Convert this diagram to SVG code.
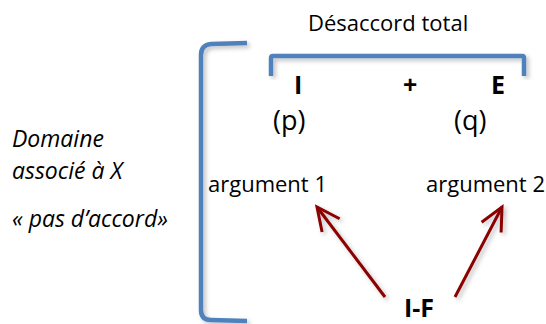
<svg xmlns="http://www.w3.org/2000/svg" width="546" height="324" viewBox="0 0 546 324">
<defs>
<style>
text{font-family:"Open Sans","Liberation Sans",sans-serif;fill:#000}
.n{font-size:22px}
.it{font-size:23px;font-style:italic}
.b{font-weight:bold;font-size:25px}
.br{fill:none;stroke:#4F81BD;stroke-width:4.5;stroke-linejoin:round;filter:url(#sh)}
.ar{fill:none;stroke:#8B0000;stroke-width:3;filter:url(#sh)}
</style>
<filter id="sh" x="-20%" y="-20%" width="140%" height="140%">
<feDropShadow dx="2.5" dy="2.5" stdDeviation="2" flood-color="#000" flood-opacity="0.25"/>
</filter>
<marker id="ah" markerUnits="userSpaceOnUse" markerWidth="40" markerHeight="40" refX="0" refY="0" viewBox="-30 -20 40 40" orient="auto" overflow="visible">
<path d="M-23,-11 L0,0 L-23,11" fill="none" stroke="#8B0000" stroke-width="3"/>
</marker>
</defs>
<g id="bracket-domaine">
<path class="br" d="M247,43 L211,44 Q201,45 201,55 L201,310 Q201,320 211,320 L247,321"/>
</g>
<g id="bracket-desaccord">
<path class="br" d="M271,76 L271,58 Q271,56 273,56 L522,56 Q524,56 524,58 L524,76"/>
</g>
<g id="title"><text class="n" x="308" y="31">Désaccord total</text></g>
<g id="I"><text class="b" x="294" y="94">I</text></g>
<g id="plus"><text class="b" x="403" y="94">+</text></g>
<g id="E"><text class="b" x="491" y="94">E</text></g>
<g id="p"><text x="273" y="130" font-size="27">(p)</text></g>
<g id="q"><text x="454" y="130" font-size="27">(q)</text></g>
<g id="domaine">
<text class="it" x="12" y="147">Domaine</text>
<text class="it" x="12" y="179">associé à X</text>
<text class="it" x="12" y="227">« pas d’accord»</text>
</g>
<g id="arg1"><text class="n" x="208" y="192">argument 1</text></g>
<g id="arg2"><text class="n" x="426" y="192">argument 2</text></g>
<g id="IF"><text class="b" x="404" y="317" font-size="23">I-F</text></g>
<g id="connectors">
<line class="ar" x1="385" y1="297" x2="317" y2="207" marker-end="url(#ah)"/>
<line class="ar" x1="455" y1="297" x2="502" y2="207" marker-end="url(#ah)"/>
</g>
</svg>
